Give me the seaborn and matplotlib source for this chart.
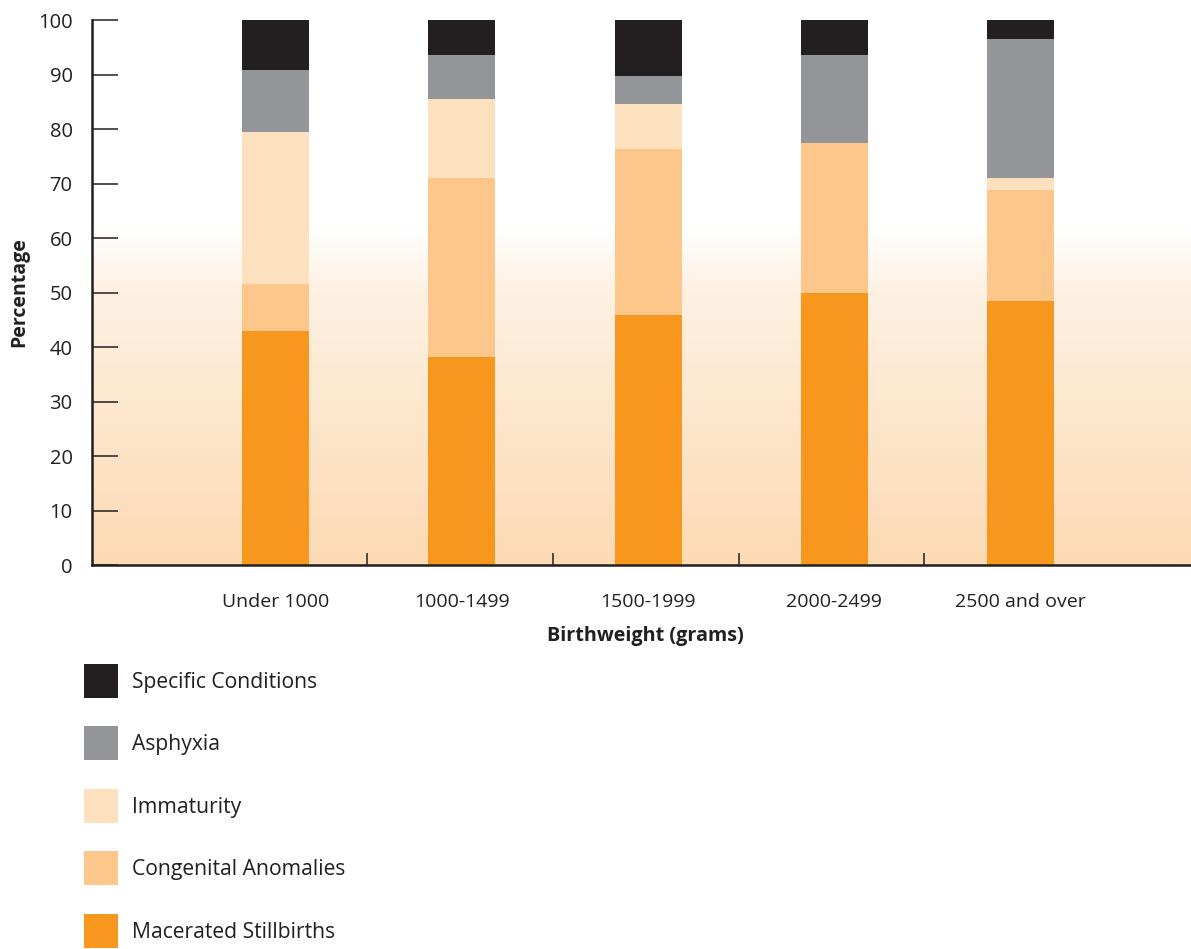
import numpy as np
import pandas as pd
import matplotlib
matplotlib.use("Agg")
import matplotlib.pyplot as plt
import matplotlib.colors as mcolors
from matplotlib.patches import Patch
import seaborn as sns

# Data (percent of deaths per birthweight group)
categories = ["Under 1000", "1000-1499", "1500-1999", "2000-2499", "2500 and over"]
macerated = [42.9, 38.1, 45.9, 49.9, 48.4]
congenital = [8.6, 32.9, 30.5, 27.5, 20.4]
immaturity = [28.0, 14.5, 8.2, 0.0, 2.2]
asphyxia = [11.4, 8.0, 5.1, 16.1, 25.6]
specific = [9.1, 6.5, 10.3, 6.5, 3.4]

layers = ["Macerated Stillbirths", "Congenital Anomalies", "Immaturity",
          "Asphyxia", "Specific Conditions"]
colors = {
    "Macerated Stillbirths": "#F7971D",
    "Congenital Anomalies": "#FDC68A",
    "Immaturity": "#FDE0BE",
    "Asphyxia": "#939598",
    "Specific Conditions": "#231F20",
}

sns.set_style("white")
plt.rcParams['font.family'] = ['Open Sans', 'DejaVu Sans']
plt.rcParams['text.color'] = '#231F20'
plt.rcParams['axes.labelcolor'] = '#231F20'
plt.rcParams['xtick.color'] = '#231F20'
plt.rcParams['ytick.color'] = '#231F20'

df = pd.DataFrame({
    "Birthweight": categories,
    "Macerated Stillbirths": macerated,
    "Congenital Anomalies": congenital,
    "Immaturity": immaturity,
    "Asphyxia": asphyxia,
    "Specific Conditions": specific,
})
# cumulative heights so layers can be painted top-down over each other
cum = df[layers].cumsum(axis=1)

fig = plt.figure(figsize=(11.91, 9.49), dpi=100)
ax = fig.add_axes([0.0772, 0.4046, 0.93, 0.5743])

# background gradient: white at top, light orange at the bottom
cmap = mcolors.LinearSegmentedColormap.from_list(
    "bg", [(0.0, "#FCDAB4"), (0.5, "#FEF1E2"), (0.62, "#FFFFFF"), (1.0, "#FFFFFF")])
grad = np.linspace(0, 1, 256).reshape(-1, 1)
ax.imshow(grad, cmap=cmap, origin="lower", aspect="auto",
          extent=[-0.985, 4.96, 0, 100], zorder=0)

for layer in reversed(layers):
    sns.barplot(x=df["Birthweight"], y=cum[layer], color=colors[layer],
                width=0.36, saturation=1, linewidth=0, ax=ax, zorder=2)

ax.set_xlim(-0.985, 4.96)
ax.set_ylim(0, 100)
ax.set_yticks(range(0, 101, 10))
ax.tick_params(axis="y", left=True, direction="in", length=19, width=1.1,
               labelsize=14.5, pad=14)
ax.tick_params(axis="x", which="major", length=0, labelsize=14, pad=20)
ax.set_xticks([0.49, 1.49, 2.49, 3.48], minor=True)
ax.tick_params(axis="x", which="minor", bottom=True, direction="in", length=8.5, width=1.1)

for side in ["top", "right"]:
    ax.spines[side].set_visible(False)
for side in ["left", "bottom"]:
    ax.spines[side].set_color("#231F20")
    ax.spines[side].set_linewidth(1.8)

ax.set_xlabel("Birthweight (grams)", fontsize=14.2, fontweight="bold", labelpad=11)
ax.set_ylabel("Percentage", fontsize=14, fontweight="bold", labelpad=6)

handles = [Patch(facecolor=colors[l], edgecolor="none", label=l) for l in reversed(layers)]
fig.legend(handles=handles, loc="upper left", bbox_to_anchor=(84 / 1191, 1 - 664 / 949),
           frameon=False, fontsize=15.2, handlelength=1.61, handleheight=2.1,
           handletextpad=0.66, labelspacing=1.35, borderpad=0, borderaxespad=0)

fig.savefig("out.png", dpi=100)
